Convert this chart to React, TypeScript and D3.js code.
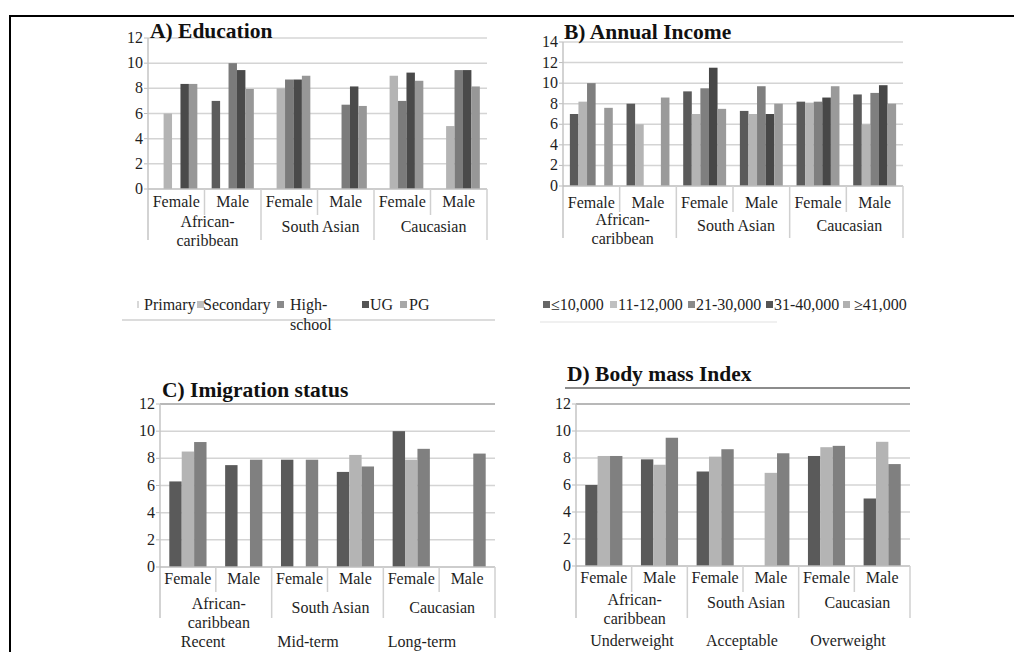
import * as d3 from "d3";

const groups = ["African-caribbean", "South Asian", "Caucasian"];
const sexes = ["Female", "Male"];

// A) Education, one list per level (AC F, AC M, SA F, SA M, Cau F, Cau M)
const educationLevels = ["Primary", "Secondary", "High-school", "UG", "PG"];
const eduPrimary = [null, 7, null, null, null, null];
const eduSecondary = [6, null, 8, null, 9, 5];
const eduHighSchool = [null, 10, 8.7, 6.7, 7, 9.45];
const eduUG = [8.35, 9.45, 8.7, 8.15, 9.25, 9.45];
const eduPG = [8.35, 7.95, 9, 6.6, 8.6, 8.15];

// B) Annual income
const incomeBands = ["≤10,000", "11-12,000", "21-30,000", "31-40,000", "≥41,000"];
const incUpTo10k = [7, 8, 9.2, 7.3, 8.2, 8.9];
const inc11to12k = [8.2, 6, 7, 7, 8.1, 6];
const inc21to30k = [10, null, 9.5, 9.7, 8.2, 9.05];
const inc31to40k = [null, null, 11.5, 7, 8.6, 9.8];
const inc41kUp = [7.6, 8.6, 7.5, 8, 9.7, 8];

// C) Immigration status
const immigrationStatus = ["Recent", "Mid-term", "Long-term"];
const imRecent = [6.3, 7.5, 7.9, 7, 10, null];
const imMidTerm = [8.5, null, null, 8.25, 7.9, null];
const imLongTerm = [9.2, 7.9, 7.9, 7.4, 8.7, 8.35];

// D) Body mass index
const bmiClasses = ["Underweight", "Acceptable", "Overweight"];
const bmiUnder = [6, 7.9, 7, null, 8.15, 5];
const bmiAcceptable = [8.15, 7.5, 8.1, 6.9, 8.8, 9.2];
const bmiOver = [8.15, 9.5, 8.65, 8.35, 8.9, 7.55];

const FONT = "Liberation Serif";
const TEXT = "#1e1e1e";
const txt = { fontFamily: FONT };

const panels = [
  {
    title: "A) Education", titleX: 150, titleY: 38,
    left: 148, right: 487, top: 38, base: 189, max: 12,
    sexY: 207, groupY: 232, group2Y: 227, shortTick: 215, longTick: 240,
    series: educationLevels,
    values: [eduPrimary, eduSecondary, eduHighSchool, eduUG, eduPG],
    colors: ["#5c5c5c", "#b4b4b4", "#7b7b7b", "#4a4a4a", "#979797"],
    pad: 0.85, topGrid: "#d6d6d6",
    legend: {
      y: 305, wrap: true,
      markerX: [137, 197, 277, 362, 400], textX: [144, 203, 290, 370, 409],
      markerW: [2, 7, 7, 7, 7], markerColors: ["#d8d8d8", "#c0c0c0", "#8a8a8a", "#555", "#a8a8a8"],
      rule: [122, 495, 320, "#dcdcdc"],
    },
  },
  {
    title: "B) Annual Income", titleX: 564, titleY: 39,
    left: 563, right: 903, top: 42, base: 186, max: 14,
    sexY: 208, groupY: 231, group2Y: 225, shortTick: 212, longTick: 238,
    series: incomeBands,
    values: [incUpTo10k, inc11to12k, inc21to30k, inc31to40k, inc41kUp],
    colors: ["#5a5a5a", "#b4b4b4", "#7f7f7f", "#474747", "#9a9a9a"],
    pad: 0.8, topGrid: "#d6d6d6",
    legend: {
      y: 305, wrap: false,
      markerX: [543, 610, 688, 766, 843], textX: [551, 618, 696, 774, 854],
      markerW: [7, 7, 7, 7, 7], markerColors: ["#666", "#c0c0c0", "#8a8a8a", "#555", "#b0b0b0"],
      rule: [540, 777, 322, "#f0f0f0"],
    },
  },
  {
    title: "C) Imigration status", titleX: 162, titleY: 397,
    left: 160, right: 495, top: 404, base: 567, max: 12,
    sexY: 584, groupY: 613, group2Y: 609, shortTick: 592, longTick: 618,
    series: immigrationStatus,
    values: [imRecent, imMidTerm, imLongTerm],
    colors: ["#5a5a5a", "#b4b4b4", "#808080"],
    pad: 0.75, topGrid: "#a0a0a0",
    bottom: { y: 647, x: [203, 308, 422] },
  },
  {
    title: "D) Body mass Index", titleX: 567, titleY: 381,
    left: 576, right: 910, top: 404, base: 566, max: 12,
    sexY: 583, groupY: 608, group2Y: 605, shortTick: 592, longTick: 618,
    series: bmiClasses,
    values: [bmiUnder, bmiAcceptable, bmiOver],
    colors: ["#5a5a5a", "#b4b4b4", "#808080"],
    pad: 0.75, topGrid: "#a0a0a0",
    underline: [565, 910, 388],
    bottom: { y: 646, x: [632, 742, 848] },
  },
];

const categories = groups.flatMap((g) => sexes.map((s) => `${g}|${s}`));
const splitHyphen = (s: string) => s.split(/(?<=-)/);

function Panel({ cfg }: { cfg: any }) {
  const x0 = d3.scaleBand<string>().domain(categories).range([cfg.left, cfg.right]);
  const x1 = d3.scaleBand<string>().domain(cfg.series)
    .range([0, x0.bandwidth()]).paddingInner(0).paddingOuter(cfg.pad);
  const y = d3.scaleLinear().domain([0, cfg.max]).range([cfg.base, cfg.top]);
  const ticks = d3.range(0, cfg.max + 1, 2);
  const groupW = x0.bandwidth() * sexes.length;

  return (
    <g>
      {ticks.filter((t) => t > 0).map((t) => (
        <line key={t} x1={cfg.left} x2={cfg.right} y1={y(t)} y2={y(t)}
          stroke={t === cfg.max ? cfg.topGrid : "#d4d4d4"} strokeWidth={1.5} />
      ))}
      {ticks.map((t) => (
        <g key={t}>
          <line x1={cfg.left - 4} x2={cfg.left} y1={y(t)} y2={y(t)} stroke="#bbb" />
          <text x={cfg.left - 5} y={y(t) + 5} textAnchor="end" fontSize={16}
            style={txt} fill={TEXT}>{t}</text>
        </g>
      ))}

      {cfg.values.map((vals: (number | null)[], si: number) =>
        vals.map((v, ci) => v == null ? null : (
          <rect key={`${si}-${ci}`}
            x={(x0(categories[ci]) as number) + (x1(cfg.series[si]) as number)}
            y={y(v)} width={x1.bandwidth()} height={y(0) - y(v)}
            fill={cfg.colors[si]} />
        )))}

      <line x1={cfg.left} x2={cfg.left} y1={cfg.top} y2={cfg.longTick} stroke="#c4c4c4" strokeWidth={1.5} />
      <line x1={cfg.left} x2={cfg.right} y1={y(0)} y2={y(0)} stroke="#bcbcbc" strokeWidth={1.5} />

      {categories.map((c, i) => {
        const xr = (x0(c) as number) + x0.bandwidth();
        const isGroupEnd = i % sexes.length === sexes.length - 1;
        return (
          <g key={c}>
            <line x1={xr} x2={xr} y1={y(0)} y2={isGroupEnd ? cfg.longTick : cfg.shortTick}
              stroke="#d0d0d0" strokeWidth={1.5} />
            <text x={(x0(c) as number) + x0.bandwidth() / 2} y={cfg.sexY} textAnchor="middle"
              fontSize={16} style={txt} fill={TEXT}>{c.split("|")[1]}</text>
          </g>
        );
      })}

      {groups.map((g, gi) => {
        const lines = splitHyphen(g);
        const cx = cfg.left + groupW * gi + groupW / 2 + 3;
        const y0 = lines.length > 1 ? cfg.group2Y : cfg.groupY;
        return (
          <text key={g} textAnchor="middle" fontSize={16} style={txt} fill={TEXT}>
            {lines.map((l, li) => (
              <tspan key={li} x={cx} y={y0 + li * 19}>{l}</tspan>
            ))}
          </text>
        );
      })}

      <text x={cfg.titleX} y={cfg.titleY} fontSize={21.5} fontWeight="bold"
        style={txt} fill="#111">{cfg.title}</text>

      {cfg.underline && (
        <line x1={cfg.underline[0]} x2={cfg.underline[1]} y1={cfg.underline[2]} y2={cfg.underline[2]}
          stroke="#8c8c8c" strokeWidth={2} />
      )}

      {cfg.legend && (
        <g>
          <line x1={cfg.legend.rule[0]} x2={cfg.legend.rule[1]} y1={cfg.legend.rule[2]} y2={cfg.legend.rule[2]}
            stroke={cfg.legend.rule[3]} strokeWidth={2} />
          {cfg.series.map((s: string, i: number) => {
            const lines = cfg.legend.wrap ? splitHyphen(s) : [s];
            return (
              <g key={s}>
                <rect x={cfg.legend.markerX[i]} y={cfg.legend.y - 4} width={cfg.legend.markerW[i]}
                  height={7} fill={cfg.legend.markerColors[i]} />
                <text fontSize={16} style={txt} fill={TEXT}>
                  {lines.map((l: string, li: number) => (
                    <tspan key={li} x={cfg.legend.textX[i]} y={cfg.legend.y + 5 + li * 20}>{l}</tspan>
                  ))}
                </text>
              </g>
            );
          })}
        </g>
      )}

      {cfg.bottom && cfg.series.map((s: string, i: number) => (
        <text key={s} x={cfg.bottom.x[i]} y={cfg.bottom.y} textAnchor="middle"
          fontSize={16} style={txt} fill={TEXT}>{s}</text>
      ))}
    </g>
  );
}

export default function App() {
  return (
    <svg width={1014} height={652} style={{ position: "absolute", left: 0, top: 0, background: "#fff" }}>
      <rect width={1014} height={652} fill="#fff" />
      <line x1={9} x2={1014} y1={16} y2={16} stroke="#000" strokeWidth={2} />
      <line x1={10} x2={10} y1={15} y2={652} stroke="#000" strokeWidth={2} />
      {panels.map((p) => <Panel key={p.title} cfg={p} />)}
    </svg>
  );
}
